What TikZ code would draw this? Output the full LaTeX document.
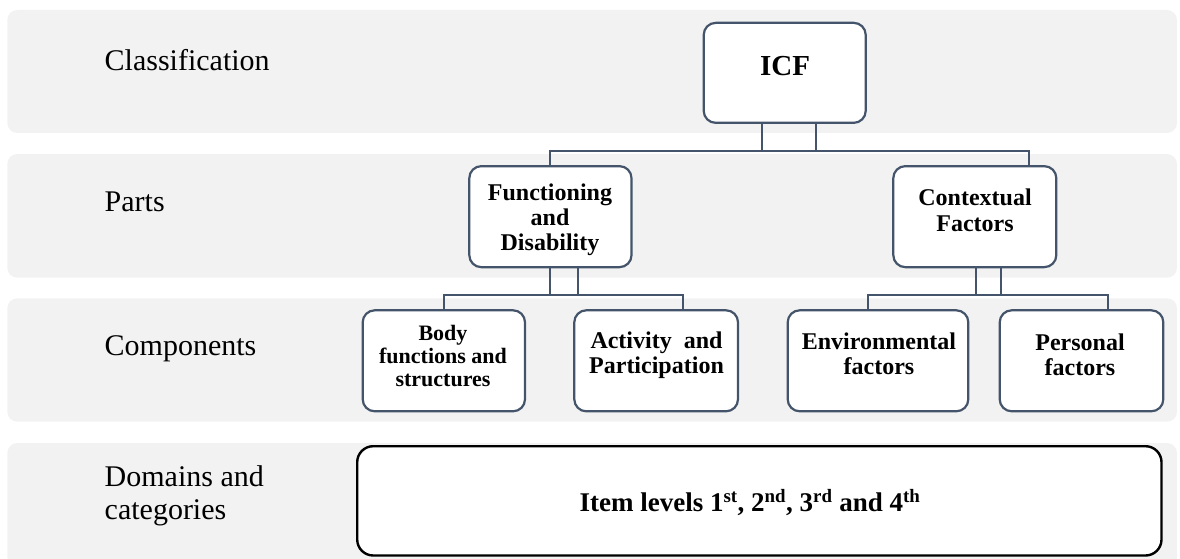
\documentclass[tikz,border=0pt]{standalone}
\usepackage{fontspec}
\setmainfont{Liberation Serif}
\definecolor{bandgray}{HTML}{F2F2F2}
\definecolor{slate}{HTML}{44546A}
\begin{document}
\begin{tikzpicture}[x=1pt,y=-1pt,
  band/.style={fill=bandgray, rounded corners=10pt},
  box/.style={draw=slate, line width=2.2pt, fill=white, rounded corners=12pt, inner sep=0pt},
  bigbox/.style={draw=black, line width=2.4pt, fill=white, rounded corners=16pt, inner sep=0pt},
  conn/.style={draw=slate, line width=2pt},
  lvl/.style={anchor=base west, inner sep=0pt, align=left, font=\fontsize{30}{32.6}\selectfont},
  boxtext/.style={anchor=base, inner sep=0pt, align=center, font=\bfseries\fontsize{24}{25}\selectfont},
]
\useasboundingbox (0,0) rectangle (1180,559);

% level bands
\path[band] (7.3,10)    rectangle (1177,133);
\path[band] (7.3,154)   rectangle (1177,277.7);
\path[band] (7.3,298.3) rectangle (1177,421.7);
\path[band] (7.3,443)   rectangle (1177,575);

% level names (base anchor = baseline of the last line)
\node[lvl] (l-class) at (104.5,70.7)  {Classification};
\node[lvl] (l-parts) at (104.5,211.7) {Parts};
\node[lvl] (l-comp)  at (104.5,355)   {Components};
\node[lvl] (l-dom)   at (104.5,519.3) {Domains and\\categories};

% boxes
\node[box, minimum width=162pt,   minimum height=100pt] (icf)  at (784.7,72.85)  {};
\node[box, minimum width=162.2pt, minimum height=101pt] (fd)   at (550.4,216.65) {};
\node[box, minimum width=163pt,   minimum height=101pt] (cf)   at (974.8,216.65) {};
\node[box, minimum width=162.3pt, minimum height=101pt] (body) at (443.85,360.8) {};
\node[box, minimum width=163.7pt, minimum height=101pt] (act)  at (656.15,360.8) {};
\node[box, minimum width=180.6pt, minimum height=101pt] (env)  at (878,360.8)    {};
\node[box, minimum width=163.6pt, minimum height=101pt] (pers) at (1081.5,360.8) {};
\node[bigbox, minimum width=804.3pt, minimum height=109.3pt] (items) at (759.35,500.85) {};

% box texts
\node[boxtext, font=\bfseries\fontsize{29}{30}\selectfont] (icf-t) at (785,76) {ICF};
\node[boxtext] (fd-t) at (550,250) {Functioning\\and\\Disability};
\node[boxtext, font=\bfseries\fontsize{24}{26.7}\selectfont] (cf-t) at (975,231.7) {Contextual\\Factors};
\node[boxtext, font=\bfseries\fontsize{22}{23}\selectfont] (body-t) at (443,386.7) {Body\\functions and\\structures};
\node[boxtext] (act-t) at (656.5,373.3) {Activity~ and\\Participation};
\node[boxtext] (env-t) at (879,374) {Environmental\\factors};
\node[boxtext] (pers-t) at (1080,375.7) {Personal\\factors};
\node[boxtext, font=\bfseries\fontsize{27}{28}\selectfont] (items-t) at (750,511.7)
  {Item levels 1\textsuperscript{st}, 2\textsuperscript{nd}, 3\textsuperscript{rd} and 4\textsuperscript{th}};

% connector rails
\coordinate (bus0) at (0,151);
\coordinate (bus1) at (0,294.6);

% attachment points
\coordinate (icf-l) at ([xshift=-22.4pt]icf.south);
\coordinate (icf-r) at ([xshift=31pt]icf.south);
\coordinate (cf-in) at ([xshift=54.5pt]cf.north);
\coordinate (fd-l)  at (fd.south);
\coordinate (fd-r)  at ([xshift=27.3pt]fd.south);
\coordinate (act-in) at ([xshift=27.2pt]act.north);
\coordinate (cf-l)  at ([xshift=0.9pt]cf.south);
\coordinate (cf-r)  at ([xshift=26.5pt]cf.south);
\coordinate (env-in)  at ([xshift=-9.7pt]env.north);
\coordinate (pers-in) at ([xshift=26.8pt]pers.north);

% connectors
\draw[conn] (icf-r) -- (icf-r |- bus0) -- (fd.north |- bus0) -- (fd.north);
\draw[conn] (icf-l) -- (icf-l |- bus0) -- (cf-in |- bus0) -- (cf-in);
\draw[conn] (fd-r) -- (fd-r |- bus1) -- (body.north |- bus1) -- (body.north);
\draw[conn] (fd-l) -- (fd-l |- bus1) -- (act-in |- bus1) -- (act-in);
\draw[conn] (cf-r) -- (cf-r |- bus1) -- (env-in |- bus1) -- (env-in);
\draw[conn] (cf-l) -- (cf-l |- bus1) -- (pers-in |- bus1) -- (pers-in);
\end{tikzpicture}
\end{document}
